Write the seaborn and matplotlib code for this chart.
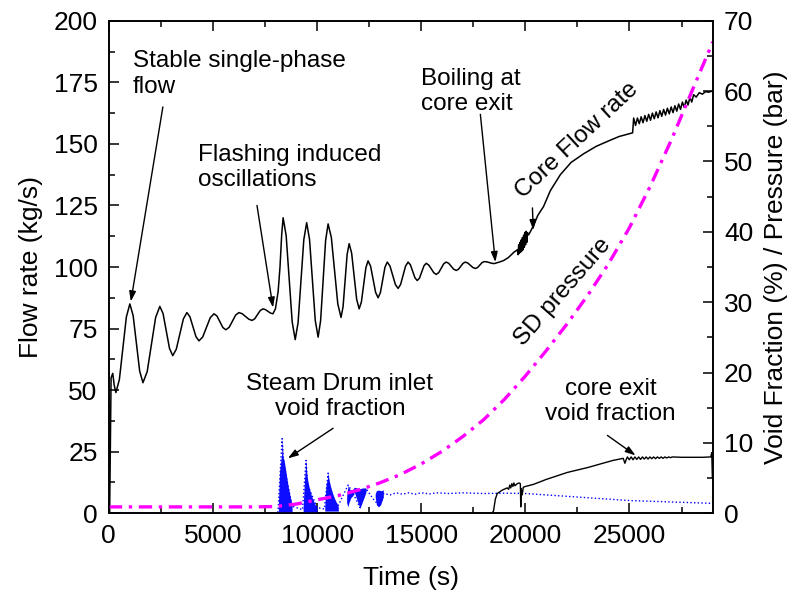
import numpy as np
import matplotlib
matplotlib.use("Agg")
import matplotlib.pyplot as plt
from matplotlib.ticker import MultipleLocator
import seaborn as sns

# core flow rate (kg/s), left axis
flow_t = [40, 110, 190, 260, 340, 508, 675, 843, 1010, 1168, 1325, 1483, 1640,
          1843, 2045, 2248, 2450, 2605, 2760, 2915, 3070, 3240, 3410, 3580, 3750,
          3895, 4040, 4185, 4330, 4510, 4690, 4870, 5050, 5193, 5335, 5478, 5620,
          5778, 5935, 6093, 6250, 6408, 6565, 6723, 6880, 7010, 7140, 7270, 7400,
          7520, 7640, 7760, 7880, 8000, 8130, 8220, 8300, 8370,
          8515, 8660, 8805, 8950, 9088, 9225, 9363, 9500, 9638, 9775, 9913, 10050,
          10170, 10290, 10410, 10530, 10685, 10840, 10995, 11150, 11248, 11345, 11443,
          11540, 11660, 11780, 11900, 12020, 12128, 12235, 12343, 12450, 12570, 12690,
          12810, 12930, 13040, 13150, 13260, 13370, 13500, 13630, 13760, 13890, 14010,
          14130, 14250, 14370, 14480, 14590, 14700, 14810, 14918, 15025, 15133, 15240,
          15360, 15480, 15600, 15720, 15840, 15960, 16080, 16200, 16320, 16440, 16560,
          16680, 16790, 16900, 17010, 17120, 17240, 17360, 17480, 17600, 17708, 17815,
          17923, 18030, 18150, 18270, 18390, 18510, 18750, 18950, 19180, 19450, 19620,
          19650, 19680, 19710, 19740, 19770, 19800, 19830, 19860, 19890, 19920, 19950,
          19980, 20010, 20040, 20070, 20100, 20150, 20250, 20400, 20600, 20870, 21200,
          21680, 22200, 22800, 23400, 23940, 24500, 25150,
          25200, 25290, 25380, 25470, 25560, 25650, 25740, 25830, 25920, 26010, 26100,
          26190, 26280, 26370, 26460, 26550, 26640, 26730, 26820, 26910, 27000, 27090,
          27180, 27270, 27360, 27450, 27540, 27630, 27720, 27810, 27900, 27990, 28080,
          28200, 28350, 28500, 28650, 28800, 29000]
flow_v = [0, 55, 56.8, 52, 49, 54.3, 67, 79.7, 85, 80.3, 69, 57.7, 53,
          57.5, 68.5, 79.5, 84, 81.1, 74, 66.9, 64, 66.6, 72.8, 78.9, 81.5,
          79.8, 75.8, 71.7, 70, 71.6, 75.5, 79.4, 81, 80.1, 77.8, 75.4, 74.5,
          75.5, 78, 80.5, 81.5, 81, 79.9, 78.8, 78.3, 79, 80.7, 82.3, 83,
          82.7, 82, 81.3, 81, 83, 90, 100, 113, 120,
          112.8, 95.3, 77.7, 70.5, 77.4, 94.3, 111.1, 118, 111.2, 94.8, 78.3, 71.5,
          78.2, 94.5, 110.8, 117.5, 112, 98.5, 85, 79.5, 83.9, 94.5, 105.1,
          109.5, 105.6, 96.3, 86.9, 83, 85.8, 92.8, 99.7, 102.5, 100.3, 95,
          89.7, 87.5, 89.6, 94.8, 99.9, 102, 100.4, 96.7, 92.9, 91.3, 92.9,
          96.7, 100.4, 102, 100.9, 98.3, 95.6, 94.5, 95.5, 98, 100.5, 101.5,
          100.8, 99.3, 97.7, 97, 97.7, 99.5, 101.3, 102, 101.5, 100.3, 99.1,
          98.6, 99.1, 100.3, 101.5, 102, 101.6, 100.7, 99.8, 99.4, 99.8, 100.8,
          101.8, 102.2, 102.1, 101.8, 101.5, 101.4, 102, 102.6, 103.8, 106, 107,
          105, 109, 105.5, 110, 106, 111, 106.5, 112, 107, 113, 108,
          114, 109, 114.5, 110, 114, 113, 114.5, 117, 121, 124.5, 131,
          137.5, 142.5, 146, 149, 151, 153, 154.5,
          160.5, 157.5, 160.5, 158.2, 161, 158.6, 161.5, 159.2, 162, 159.6, 162.5,
          160.2, 163, 160.6, 163.5, 161.2, 164, 161.7, 164.5, 162.2, 165, 162.7,
          165.5, 163.3, 166.2, 164, 167, 164.8, 167.8, 165.8, 168.8, 167, 170,
          169, 170.8, 170.2, 171.2, 171, 171.5]

# core exit void fraction (%), right axis
exit_t = [18400, 18470, 18560, 18650, 18900, 19130, 19200, 19250, 19300, 19350, 19400,
          19450, 19500, 19610, 19700, 19760, 19780, 19800, 19850, 19900, 20000, 20390,
          21000, 22020, 23000, 23600, 24200, 24700, 24780, 24850,
          24900, 24990, 25080, 25170, 25260, 25350, 25440, 25530, 25620, 25710, 25800,
          25890, 25980, 26070, 26160, 26250, 26340, 26430, 26520, 26610, 26700, 26790,
          26880, 26970, 27060, 27500, 28000, 28500, 28900, 28950, 28980]
exit_v = [0, 0.3, 2.0, 2.8, 3.3, 3.6, 3.4, 4.0, 3.6, 4.2, 3.8,
          4.3, 3.9, 4.2, 4.3, 4.2, 0.9, 3.5, 2.6, 3.7, 3.8, 4.1,
          4.8, 5.8, 6.5, 7.0, 7.5, 7.8, 7.1, 7.7,
          8.0, 7.6, 8.0, 7.6, 8.0, 7.65, 8.0, 7.65, 8.0, 7.7, 8.0,
          7.7, 8.0, 7.75, 8.0, 7.75, 8.0, 7.8, 8.0, 7.8, 8.0, 7.85,
          8.0, 7.9, 8.0, 7.95, 7.95, 7.95, 8.0, 8.6, 5.0]

# steam drum inlet void fraction (%), right axis
sd_void_t = [0, 8100, 8130, 8320, 8400, 8800, 9300, 9470, 9550, 10000, 10350, 10530,
             10600, 11000, 11490, 11700, 12060, 12350, 12700, 13000, 13200, 13500,
             13800, 14100, 14400, 14700, 15000, 15400, 15800, 16300, 17000, 18000,
             19000, 20000, 21000, 22000, 23000, 24000, 25000, 26000, 27000, 28000, 29000]
sd_void_v = [0, 0, 0.5, 10.6, 7, 1.0, 0.5, 7.5, 4, 0.8, 0.6, 5.7,
             3, 1.0, 4.0, 3.0, 0.8, 3.5, 2.0, 1.0, 2.8, 2.6,
             2.9, 2.7, 2.9, 2.7, 2.9, 2.75, 2.9, 2.8, 2.9, 2.8,
             2.85, 2.8, 2.6, 2.4, 2.2, 2.0, 1.8, 1.7, 1.6, 1.5, 1.4]

# dense oscillation bursts of the steam drum void fraction
burst_t = [[8140, 8200, 8260, 8300, 8330, 8360, 8420, 8500, 8600, 8700, 8800],
           [9330, 9400, 9440, 9470, 9500, 9560, 9650, 9750, 9880, 10000],
           [10370, 10430, 10500, 10530, 10570, 10650, 10750, 10850, 10950, 11020],
           [11420, 11470, 11490, 11530, 11620, 11720, 11790, 11900, 12060, 12200, 12350],
           [12790, 12850, 12950, 13050, 13180]]
burst_hi = [[1.0, 6.0, 7.5, 8.5, 10.6, 8.0, 7.5, 6.0, 4.0, 2.5, 1.2],
            [0.8, 5.0, 6.5, 7.5, 5.8, 4.5, 3.3, 2.3, 1.4, 0.7],
            [1.0, 4.0, 5.0, 5.7, 4.8, 3.8, 2.8, 2.0, 1.4, 0.9],
            [2.5, 3.5, 4.0, 3.6, 3.2, 3.4, 3.7, 3.6, 3.5, 3.6, 3.6],
            [2.8, 3.2, 3.3, 3.2, 3.3]]
burst_lo = [[0, 0, 0, 0, 0, 0, 0, 0, 0, 0, 0],
            [0, 0, 0, 0, 0, 0, 0, 0, 0, 0],
            [0.3, 0.3, 0.3, 0.3, 0.3, 0.3, 0.3, 0.3, 0.3, 0.3],
            [1.5, 1.0, 1.0, 1.5, 2.2, 2.5, 3.0, 2.0, 0.7, 1.8, 3.0],
            [2.3, 1.2, 0.9, 1.2, 2.3]]

# steam drum pressure (bar), right axis
press_t = [0, 7000, 8000, 9000, 10000, 11000, 12000, 13000, 14000, 15000, 16000,
           17000, 18000, 19000, 20000, 21000, 22000, 23000, 24000, 25000, 26000,
           27000, 28000, 29000]
press_v = [0.9, 0.9, 0.95, 1.3, 1.9, 2.5, 3.3, 4.3, 5.5, 7.0, 8.8,
           10.9, 13.3, 16.2, 19.5, 23.1, 26.9, 31.0, 35.5, 40.6, 46.5,
           53.0, 60.0, 67.0]

sns.set_style("ticks")
plt.rcParams['font.family'] = ['Liberation Sans', 'DejaVu Sans']
plt.rcParams['text.color'] = 'black'
plt.rcParams['axes.labelcolor'] = 'black'
plt.rcParams['xtick.color'] = 'black'
plt.rcParams['ytick.color'] = 'black'

fig = plt.figure(figsize=(8, 5.94), dpi=100)
ax = fig.add_axes([0.136, 0.136, 0.755, 0.829])
ax2 = ax.twinx()

sns.lineplot(x=flow_t, y=flow_v, ax=ax, color='black', lw=1.1, estimator=None, sort=False)

for bt, bh, bl in zip(burst_t, burst_hi, burst_lo):
    ax2.fill_between(bt, bl, bh, color='#0000ff', lw=0, alpha=0.95)
sns.lineplot(x=sd_void_t, y=sd_void_v, ax=ax2, color='#0000ff', lw=1, ls=':',
             estimator=None, sort=False)
sns.lineplot(x=exit_t, y=exit_v, ax=ax2, color='black', lw=1, estimator=None, sort=False)
sns.lineplot(x=press_t, y=press_v, ax=ax2, color='#ff00ff', lw=2.4,
             ls=(0, (4, 2, 1, 2)), estimator=None, sort=False)

ax.set_xlim(0, 29000)
ax.set_ylim(0, 200)
ax2.set_ylim(0, 70)

ax.xaxis.set_major_locator(MultipleLocator(5000))
ax.xaxis.set_minor_locator(MultipleLocator(2500))
ax.yaxis.set_major_locator(MultipleLocator(25))
ax.yaxis.set_minor_locator(MultipleLocator(12.5))
ax2.yaxis.set_major_locator(MultipleLocator(10))
ax2.yaxis.set_minor_locator(MultipleLocator(5))

ax.tick_params(which='both', direction='in', top=True, right=False, labelsize=19,
               width=1.1, pad=8, colors='black')
ax.tick_params(which='major', length=7)
ax.tick_params(which='minor', length=4)
ax2.tick_params(which='both', direction='in', left=False, right=True, labelsize=19,
                width=1.1, pad=8, colors='black')
ax2.tick_params(which='major', length=7)
ax2.tick_params(which='minor', length=4)
for a in (ax, ax2):
    for s in a.spines.values():
        s.set_visible(True)
        s.set_linewidth(1.2)
        s.set_color('black')

ax.set_xlabel('Time (s)', fontsize=19, labelpad=13)
ax.set_ylabel('Flow rate (kg/s)', fontsize=19, labelpad=8)
ax2.set_ylabel('Void Fraction (%) / Pressure (bar)', fontsize=19, labelpad=8)

fs = 17.5
arw = dict(arrowstyle='-|>,head_length=0.6,head_width=0.2', color='black', lw=1,
           shrinkA=0, shrinkB=0)
ax.text(1154, 188, 'Stable single-phase\nflow', fontsize=fs, va='top', ha='left')
ax.annotate('', xy=(1058, 86), xytext=(2596, 165), arrowprops=arw)
ax.text(4280, 150, 'Flashing induced\noscillations', fontsize=fs, va='top', ha='left')
ax.annotate('', xy=(7885, 83.5), xytext=(7115, 125), arrowprops=arw)
ax.text(15000, 181, 'Boiling at\ncore exit', fontsize=fs, va='top', ha='left')
ax.annotate('', xy=(18560, 102), xytext=(17840, 162), arrowprops=arw)
ax.text(11100, 57, 'Steam Drum inlet\nvoid fraction', fontsize=fs, va='top',
        ha='center', multialignment='center')
ax.annotate('', xy=(8600, 22.3), xytext=(10770, 34.5), arrowprops=arw)
ax.text(24090, 55, 'core exit\nvoid fraction', fontsize=fs, va='top',
        ha='center', multialignment='center')
ax.annotate('', xy=(25290, 23.5), xytext=(23940, 31.6), arrowprops=arw)
ax.text(22500, 151.5, 'Core Flow rate', fontsize=fs, rotation=43, ha='center',
        va='center', rotation_mode='anchor')
ax.annotate('', xy=(20380, 115), xytext=(20340, 124), arrowprops=arw)
ax.text(21800, 90, 'SD pressure', fontsize=fs, rotation=49, ha='center',
        va='center', rotation_mode='anchor')

fig.savefig('out.png', dpi=100)
